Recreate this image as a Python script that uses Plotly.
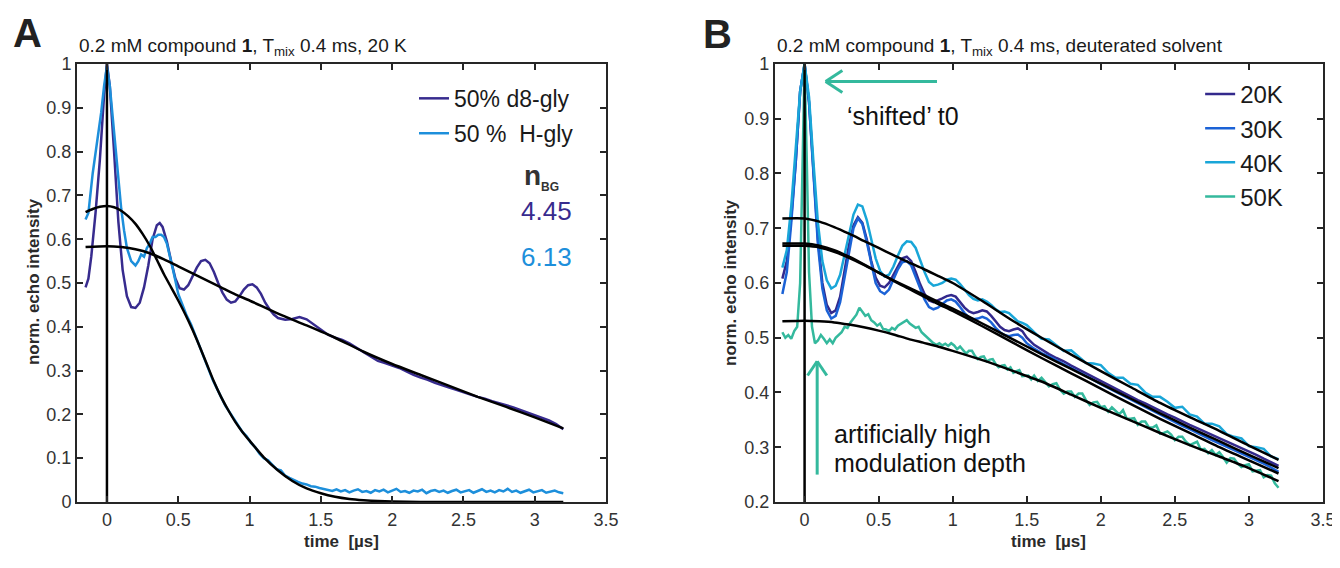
import numpy as np
import plotly.graph_objects as go

FONT = "Liberation Sans, Arial, sans-serif"
INK = "#262626"

# colours
C_D8 = "#372b8e"
C_H = "#1d8fdb"
C_20 = "#33298c"
C_30 = "#1b62d6"
C_40 = "#19a6d8"
C_50 = "#34b99d"

# ---------------- panel A : 50% d8-gly vs 50% H-gly ----------------
d8_t = [-0.15, -0.13, -0.11, -0.08, -0.05, -0.02, 0.0, 0.02, 0.05, 0.08, 0.11, 0.14, 0.17, 0.2, 0.23,
        0.26, 0.29, 0.32, 0.35, 0.37, 0.39, 0.42, 0.45, 0.48, 0.51, 0.54, 0.57, 0.6, 0.63, 0.66,
        0.69, 0.72, 0.75, 0.78, 0.81, 0.84, 0.87, 0.9, 0.93, 0.96, 0.99, 1.02, 1.05, 1.08, 1.11,
        1.14, 1.17]
d8_y = [0.49, 0.51, 0.56, 0.66, 0.78, 0.93, 1.0, 0.95, 0.80, 0.64, 0.53, 0.47, 0.445, 0.443, 0.455,
        0.49, 0.54, 0.6, 0.632, 0.637, 0.628, 0.595, 0.55, 0.51, 0.488, 0.485, 0.495, 0.515, 0.535, 0.55,
        0.553, 0.545, 0.525, 0.5, 0.478, 0.462, 0.455, 0.458, 0.47, 0.485, 0.495, 0.497, 0.49, 0.475, 0.455,
        0.44, 0.428]
# 1.2 .. 3.2 us, 0.05 us steps
d8_tail_y = [0.42, 0.416, 0.418, 0.422, 0.417, 0.405, 0.392, 0.382, 0.375, 0.37, 0.362, 0.352, 0.342,
             0.33, 0.322, 0.317, 0.312, 0.306, 0.298, 0.29, 0.284, 0.279, 0.272, 0.266, 0.261, 0.256,
             0.25, 0.245, 0.24, 0.236, 0.23, 0.226, 0.221, 0.216, 0.21, 0.205, 0.199, 0.193, 0.186,
             0.178, 0.166]

hg_t = [-0.15, -0.13, -0.1, -0.07, -0.04, -0.02, 0.0, 0.02, 0.05, 0.08, 0.1, 0.12, 0.14, 0.17, 0.2,
        0.22, 0.24, 0.26, 0.28, 0.3, 0.32, 0.34, 0.36, 0.38, 0.4, 0.42, 0.44, 0.46, 0.48, 0.5,
        0.53, 0.56, 0.59, 0.62, 0.65, 0.68, 0.71, 0.74, 0.77, 0.8, 0.83, 0.86, 0.89, 0.92, 0.95,
        0.98, 1.01, 1.04, 1.07, 1.1, 1.13, 1.16, 1.19, 1.22, 1.25, 1.28, 1.31, 1.34, 1.37, 1.4,
        1.43, 1.46, 1.49, 1.52]
hg_y = [0.645, 0.66, 0.75, 0.82, 0.89, 0.95, 0.995, 0.95, 0.84, 0.73, 0.67, 0.62, 0.58, 0.55, 0.54,
        0.55, 0.565, 0.56, 0.58, 0.59, 0.605, 0.605, 0.61, 0.61, 0.605, 0.59, 0.565, 0.535, 0.505, 0.475,
        0.45, 0.425, 0.405, 0.38, 0.355, 0.33, 0.305, 0.28, 0.26, 0.24, 0.22, 0.205, 0.19, 0.175, 0.16,
        0.15, 0.135, 0.125, 0.11, 0.1, 0.095, 0.085, 0.075, 0.072, 0.06, 0.055, 0.05, 0.046, 0.042, 0.04,
        0.036, 0.035, 0.032, 0.03]
# 1.55 .. 3.2 us, 0.03 us steps
hg_tail_y = [0.028, 0.025, 0.029, 0.024, 0.027, 0.022, 0.026, 0.029, 0.023, 0.025, 0.021, 0.027, 0.024,
             0.028, 0.022, 0.026, 0.03, 0.023, 0.025, 0.021, 0.026, 0.024, 0.028, 0.02, 0.025, 0.027,
             0.023, 0.026, 0.021, 0.025, 0.028, 0.022, 0.024, 0.027, 0.021, 0.025, 0.029, 0.023, 0.026,
             0.022, 0.027, 0.024, 0.03, 0.023, 0.026, 0.021, 0.025, 0.028, 0.022, 0.025, 0.027, 0.021,
             0.024, 0.026, 0.022, 0.02]

fitA_hg_t = [-0.15, -0.1, -0.05, 0.0, 0.05, 0.1, 0.15, 0.2, 0.25, 0.3, 0.35, 0.4, 0.45, 0.5, 0.55,
             0.6, 0.65, 0.7, 0.75, 0.8, 0.85, 0.9, 0.95, 1.0, 1.1, 1.2, 1.3, 1.4, 1.5, 1.6, 1.7, 1.8,
             1.9, 2.0, 2.2, 2.6, 3.0, 3.2]
fitA_hg_y = [0.662, 0.669, 0.674, 0.676, 0.673, 0.665, 0.652, 0.635, 0.612, 0.585, 0.553, 0.52, 0.49,
             0.46, 0.428, 0.393, 0.355, 0.315, 0.275, 0.24, 0.21, 0.183, 0.16, 0.14, 0.102, 0.072,
             0.048, 0.031, 0.02, 0.012, 0.007, 0.004, 0.002, 0.001, 0, 0, 0, 0]
fitA_d8_t = [-0.15, 0.0, 0.1, 0.2, 0.3, 0.4, 0.5, 0.6, 0.7, 0.8, 0.9, 1.0, 1.2, 1.4, 1.6, 1.8, 2.0,
             2.2, 2.4, 2.6, 2.8, 3.0, 3.2]
fitA_d8_y = [0.582, 0.584, 0.582, 0.577, 0.568, 0.554, 0.538, 0.522, 0.506, 0.49, 0.474, 0.46, 0.43,
             0.403, 0.375, 0.343, 0.315, 0.29, 0.265, 0.24, 0.217, 0.193, 0.168]

# ---------------- panel B : temperature series ----------------
k20_t = [-0.15, -0.12, -0.09, -0.06, -0.03, 0.0, 0.03, 0.06, 0.09, 0.12, 0.15, 0.18, 0.21, 0.24, 0.27,
         0.3, 0.33, 0.36, 0.39, 0.42, 0.45, 0.48, 0.51, 0.54, 0.57, 0.6, 0.63, 0.66, 0.69, 0.72,
         0.75, 0.78, 0.81, 0.84, 0.87, 0.9, 0.93, 0.96, 0.99, 1.02, 1.05, 1.08, 1.11, 1.14, 1.17,
         1.2, 1.23, 1.26, 1.29, 1.32, 1.35, 1.38, 1.41, 1.44, 1.47, 1.5]
k20_y = [0.608, 0.64, 0.72, 0.82, 0.95, 1.0, 0.93, 0.8, 0.68, 0.6, 0.56, 0.545, 0.55, 0.575, 0.62,
         0.67, 0.705, 0.72, 0.71, 0.68, 0.64, 0.61, 0.595, 0.592, 0.6, 0.615, 0.632, 0.645, 0.648, 0.64,
         0.62, 0.598, 0.58, 0.568, 0.565, 0.568, 0.572, 0.576, 0.578, 0.575, 0.565, 0.555, 0.548, 0.545, 0.547,
         0.55, 0.548, 0.54, 0.53, 0.52, 0.514, 0.512, 0.515, 0.517, 0.512, 0.5]
k30_y = [0.58, 0.62, 0.71, 0.82, 0.95, 1.0, 0.93, 0.79, 0.67, 0.59, 0.55, 0.535, 0.54, 0.565, 0.61,
         0.66, 0.7, 0.718, 0.708, 0.675, 0.635, 0.6, 0.585, 0.58, 0.588, 0.605, 0.625, 0.638, 0.64, 0.632,
         0.612, 0.59, 0.57, 0.556, 0.552, 0.555, 0.562, 0.568, 0.57, 0.566, 0.556, 0.545, 0.537, 0.534, 0.535,
         0.538, 0.535, 0.528, 0.518, 0.51, 0.505, 0.503, 0.505, 0.506, 0.5, 0.49]
k40_y = [0.628, 0.66, 0.74, 0.84, 0.95, 1.0, 0.94, 0.82, 0.71, 0.64, 0.605, 0.59, 0.595, 0.615, 0.65,
         0.69, 0.725, 0.743, 0.74, 0.715, 0.68, 0.645, 0.622, 0.612, 0.615, 0.63, 0.65, 0.668, 0.676, 0.675,
         0.664, 0.642, 0.62, 0.602, 0.595, 0.597, 0.6, 0.606, 0.608, 0.606, 0.598, 0.588, 0.578, 0.571, 0.568,
         0.57, 0.566, 0.56, 0.552, 0.547, 0.548, 0.545, 0.538, 0.53, 0.527, 0.523]
# 1.55 .. 3.2 us, 0.05 us steps
k20_tail = [0.487, 0.478, 0.47, 0.463, 0.457, 0.449, 0.442, 0.434, 0.428, 0.421, 0.414, 0.407, 0.4,
            0.393, 0.386, 0.38, 0.373, 0.366, 0.36, 0.354, 0.347, 0.341, 0.335, 0.329, 0.322, 0.316,
            0.31, 0.304, 0.298, 0.292, 0.286, 0.279, 0.273, 0.266]
k30_tail = [0.48, 0.472, 0.466, 0.459, 0.452, 0.444, 0.437, 0.43, 0.423, 0.415, 0.408, 0.401, 0.394,
            0.387, 0.38, 0.373, 0.366, 0.359, 0.352, 0.346, 0.339, 0.333, 0.326, 0.32, 0.313, 0.307,
            0.301, 0.295, 0.289, 0.283, 0.277, 0.27, 0.263, 0.255]
k40_tail = [0.51, 0.498, 0.497, 0.487, 0.476, 0.477, 0.465, 0.454, 0.453, 0.45, 0.436, 0.427, 0.427,
            0.416, 0.414, 0.4, 0.392, 0.392, 0.383, 0.372, 0.374, 0.36, 0.356, 0.343, 0.343, 0.338,
            0.324, 0.319, 0.316, 0.302, 0.3, 0.297, 0.283, 0.278]

k50_t = [-0.15, -0.13, -0.11, -0.09, -0.07, -0.05, -0.03, -0.015, 0.0, 0.015, 0.03, 0.05, 0.07, 0.09,
         0.11, 0.13, 0.15, 0.17, 0.19, 0.21, 0.23, 0.25, 0.27, 0.29, 0.31, 0.33, 0.35, 0.37, 0.39,
         0.41, 0.43, 0.45, 0.47, 0.49, 0.51, 0.53, 0.55, 0.57, 0.59, 0.61, 0.63, 0.65, 0.67, 0.69,
         0.71, 0.73, 0.75, 0.77, 0.79, 0.81, 0.83, 0.85, 0.87, 0.89, 0.91, 0.93, 0.95, 0.97, 0.99,
         1.01, 1.03, 1.05, 1.07, 1.09, 1.11, 1.13, 1.15, 1.17, 1.19, 1.21, 1.23, 1.25, 1.27, 1.29,
         1.31, 1.33, 1.35, 1.37, 1.39, 1.41, 1.43, 1.45, 1.47, 1.49, 1.51, 1.53]
k50_y = [0.51, 0.5, 0.505, 0.498, 0.512, 0.52, 0.6, 0.8, 1.0, 0.82, 0.62, 0.52, 0.49, 0.495,
         0.505, 0.498, 0.49, 0.497, 0.49, 0.5, 0.505, 0.51, 0.52, 0.518, 0.528, 0.535, 0.542, 0.555, 0.548,
         0.54, 0.543, 0.532, 0.528, 0.522, 0.526, 0.516, 0.515, 0.512, 0.518, 0.515, 0.522, 0.525, 0.528, 0.532,
         0.526, 0.522, 0.518, 0.52, 0.51, 0.505, 0.5, 0.496, 0.49, 0.487, 0.49, 0.486, 0.489, 0.485, 0.49,
         0.486, 0.479, 0.484, 0.477, 0.471, 0.476, 0.476, 0.467, 0.461, 0.465, 0.466, 0.457, 0.46, 0.461,
         0.452, 0.446, 0.449, 0.45, 0.442, 0.446, 0.436, 0.439, 0.441, 0.43, 0.431, 0.431, 0.424]
# 1.55 .. 3.2 us, 0.025 us steps
k50_tail = [0.431, 0.421, 0.427, 0.419, 0.411, 0.415, 0.417, 0.405, 0.398, 0.402, 0.402, 0.392, 0.398,
            0.398, 0.386, 0.377, 0.382, 0.383, 0.373, 0.375, 0.365, 0.373, 0.366, 0.36, 0.368, 0.352,
            0.352, 0.353, 0.341, 0.347, 0.347, 0.336, 0.336, 0.34, 0.325, 0.326, 0.329, 0.323, 0.313,
            0.319, 0.319, 0.31, 0.304, 0.307, 0.31, 0.296, 0.297, 0.289, 0.295, 0.286, 0.291, 0.282,
            0.272, 0.28, 0.279, 0.27, 0.264, 0.267, 0.269, 0.256, 0.257, 0.258, 0.245, 0.249, 0.248,
            0.234, 0.226]

fitB_t = [-0.15, 0.0, 0.1, 0.2, 0.3, 0.4, 0.5, 0.6, 0.7, 0.8, 0.9, 1.0, 1.2, 1.4, 1.6, 1.8, 2.0,
          2.2, 2.4, 2.6, 2.8, 3.0, 3.2]
fit20_y = [0.668, 0.668, 0.665, 0.657, 0.646, 0.633, 0.619, 0.605, 0.592, 0.579, 0.566, 0.553, 0.526,
           0.498, 0.47, 0.443, 0.416, 0.389, 0.362, 0.336, 0.311, 0.286, 0.262]
fit30_y = [0.672, 0.672, 0.668, 0.66, 0.648, 0.634, 0.619, 0.604, 0.59, 0.576, 0.562, 0.549, 0.521,
           0.492, 0.463, 0.435, 0.407, 0.379, 0.352, 0.326, 0.3, 0.276, 0.252]
fit40_y = [0.718, 0.718, 0.712, 0.702, 0.69, 0.677, 0.664, 0.651, 0.638, 0.626, 0.613, 0.6, 0.567,
           0.532, 0.5, 0.469, 0.439, 0.41, 0.381, 0.355, 0.33, 0.303, 0.277]
fit50_y = [0.53, 0.531, 0.53, 0.528, 0.524, 0.519, 0.513, 0.506, 0.498, 0.491, 0.484, 0.476, 0.459,
           0.44, 0.42, 0.396, 0.372, 0.349, 0.326, 0.304, 0.283, 0.262, 0.238]


def grid(a, b, vals):
    return list(np.round(np.linspace(a, b, len(vals)), 4))


fig = go.Figure()

# panel A data
fig.add_trace(go.Scatter(x=d8_t + grid(1.2, 3.2, d8_tail_y), y=d8_y + d8_tail_y, mode="lines",
                         line=dict(color=C_D8, width=2.5), name="50% d8-gly",
                         legend="legend", legendgroup="a1", xaxis="x", yaxis="y"))
fig.add_trace(go.Scatter(x=hg_t + grid(1.55, 3.2, hg_tail_y), y=hg_y + hg_tail_y, mode="lines",
                         line=dict(color=C_H, width=2.5), name="50 %\u00a0 H-gly",
                         legend="legend", legendgroup="a2", xaxis="x", yaxis="y"))
for ft, fy in [(fitA_hg_t, fitA_hg_y), (fitA_d8_t, fitA_d8_y)]:
    fig.add_trace(go.Scatter(x=ft, y=fy, mode="lines", line=dict(color="black", width=2.5, shape="spline", smoothing=0.6),
                             showlegend=False, xaxis="x", yaxis="y"))
fig.add_trace(go.Scatter(x=[0, 0], y=[0, 1], mode="lines", line=dict(color="black", width=2.5),
                         showlegend=False, xaxis="x", yaxis="y"))

# panel B data
for name, ys, tail, col in [("20K", k20_y, k20_tail, C_20), ("30K", k30_y, k30_tail, C_30),
                            ("40K", k40_y, k40_tail, C_40)]:
    fig.add_trace(go.Scatter(x=k20_t + grid(1.55, 3.2, tail), y=ys + tail, mode="lines",
                             line=dict(color=col, width=2.5), name=name, legend="legend2",
                             legendgroup=name, xaxis="x2", yaxis="y2"))
fig.add_trace(go.Scatter(x=k50_t + grid(1.55, 3.2, k50_tail), y=k50_y + k50_tail, mode="lines",
                         line=dict(color=C_50, width=2.5), name="50K", legend="legend2",
                         legendgroup="50K", xaxis="x2", yaxis="y2"))
for fy in [fit20_y, fit30_y, fit40_y, fit50_y]:
    fig.add_trace(go.Scatter(x=fitB_t, y=fy, mode="lines", line=dict(color="black", width=2.5, shape="spline", smoothing=0.6),
                             showlegend=False, xaxis="x2", yaxis="y2"))
fig.add_trace(go.Scatter(x=[0, 0], y=[0.2, 1], mode="lines", line=dict(color="black", width=2.5),
                         showlegend=False, xaxis="x2", yaxis="y2"))

axis_style = dict(showline=True, linewidth=2, linecolor=INK, mirror="allticks", ticks="inside",
                  ticklen=6, tickwidth=2, tickcolor=INK, showgrid=False, zeroline=False,
                  automargin=False, tickfont=dict(family=FONT, size=18, color="#333"))
xt = [0, 0.5, 1, 1.5, 2, 2.5, 3, 3.5]
xl = ["0", "0.5", "1", "1.5", "2", "2.5", "3", "3.5"]
ya_v = [round(0.1 * i, 1) for i in range(11)]
ya_l = ["0"] + ["%.1f" % v for v in ya_v[1:10]] + ["1"]
yb_v = ya_v[2:]
yb_l = ya_l[2:]

# page body has an 8px margin, so the figure is 1332x560 and sits at (8, 8)
dom_y = [0.1179, 0.9]
fig.update_layout(
    width=1332, height=560, margin=dict(l=0, r=0, t=0, b=0),
    paper_bgcolor="white", plot_bgcolor="white",
    font=dict(family=FONT, color=INK),
    xaxis=dict(domain=[0.0518, 0.449], range=[-0.21, 3.5], tickvals=xt, ticktext=xl, anchor="y", **axis_style),
    yaxis=dict(domain=dom_y, range=[0, 1], tickvals=ya_v, ticktext=ya_l, anchor="x", **axis_style),
    xaxis2=dict(domain=[0.5758, 0.9872], range=[-0.2, 3.5], tickvals=xt, ticktext=xl, anchor="y2", **axis_style),
    yaxis2=dict(domain=dom_y, range=[0.2, 1], tickvals=yb_v, ticktext=yb_l, anchor="x2", **axis_style),
    legend=dict(x=0.3048, y=0.877, xanchor="left", yanchor="top", bgcolor="rgba(0,0,0,0)",
                font=dict(family=FONT, size=23, color="#1a1a1a"), tracegroupgap=2, itemwidth=30),
    legend2=dict(x=0.895, y=0.886, xanchor="left", yanchor="top", bgcolor="rgba(0,0,0,0)",
                 font=dict(family=FONT, size=24, color="#1a1a1a"), tracegroupgap=0, itemwidth=30),
)


def note(text, x, y, size, color="#1a1a1a", xref="paper", yref="paper", xanchor="center", angle=0):
    return dict(text=text, x=x, y=y, xref=xref, yref=yref, xanchor=xanchor, yanchor="middle",
                textangle=angle, showarrow=False, font=dict(size=size, family=FONT, color=color))


ann = [
    # panel letters
    note("<b>A</b>", 0.0146, 0.956, 40, "#222"),
    note("<b>B</b>", 0.5323, 0.954, 40, "#222"),
    # titles
    note("0.2 mM compound <b>1</b>, T<sub>mix</sub> 0.4 ms, 20 K", 0.0518, 0.93, 19, xanchor="left"),
    note("0.2 mM compound <b>1</b>, T<sub>mix</sub> 0.4 ms, deuterated solvent", 0.5758, 0.93, 19, xanchor="left"),
    # axis titles
    note("<b>time  [µs]</b>", 0.2504, 0.048, 17, "#2a2a2a"),
    note("<b>time  [µs]</b>", 0.7815, 0.048, 17, "#2a2a2a"),
    note("<b>norm. echo intensity</b>", 0.0188, 0.5107, 17, "#2a2a2a", angle=-90),
    note("<b>norm. echo intensity</b>", 0.542, 0.5107, 17, "#2a2a2a", angle=-90),
    # n_BG values in panel A
    note("<b>n</b><sub><span style='font-size:12px'><b>BG</b></span></sub>", 3.05, 0.742, 28, "#333", "x", "y"),
    note("4.45", 3.08, 0.664, 26, C_D8, "x", "y"),
    note("6.13", 3.08, 0.559, 26, C_H, "x", "y"),
    # panel B remarks
    note("\u2018shifted\u2019 t0", 0.275, 0.905, 25, "#111", "x2", "y2", "left"),
    note("artificially high", 0.185, 0.324, 25, "#111", "x2", "y2", "left"),
    note("modulation depth", 0.185, 0.271, 25, "#111", "x2", "y2", "left"),
]
fig.update_layout(annotations=ann)

# teal arrows (shaft + open chevron head)
arrows = [
    [(0.894, 0.968), (0.142, 0.968)],
    [(0.142, 0.968), (0.255, 0.988)],
    [(0.142, 0.968), (0.255, 0.948)],
    [(0.085, 0.25), (0.085, 0.457)],
    [(0.085, 0.457), (0.02, 0.431)],
    [(0.085, 0.457), (0.15, 0.431)],
]
for (x0, y0), (x1, y1) in arrows:
    fig.add_shape(type="line", x0=x0, y0=y0, x1=x1, y1=y1, xref="x2", yref="y2",
                  line=dict(color=C_50, width=3))

fig.write_html("out.html")
